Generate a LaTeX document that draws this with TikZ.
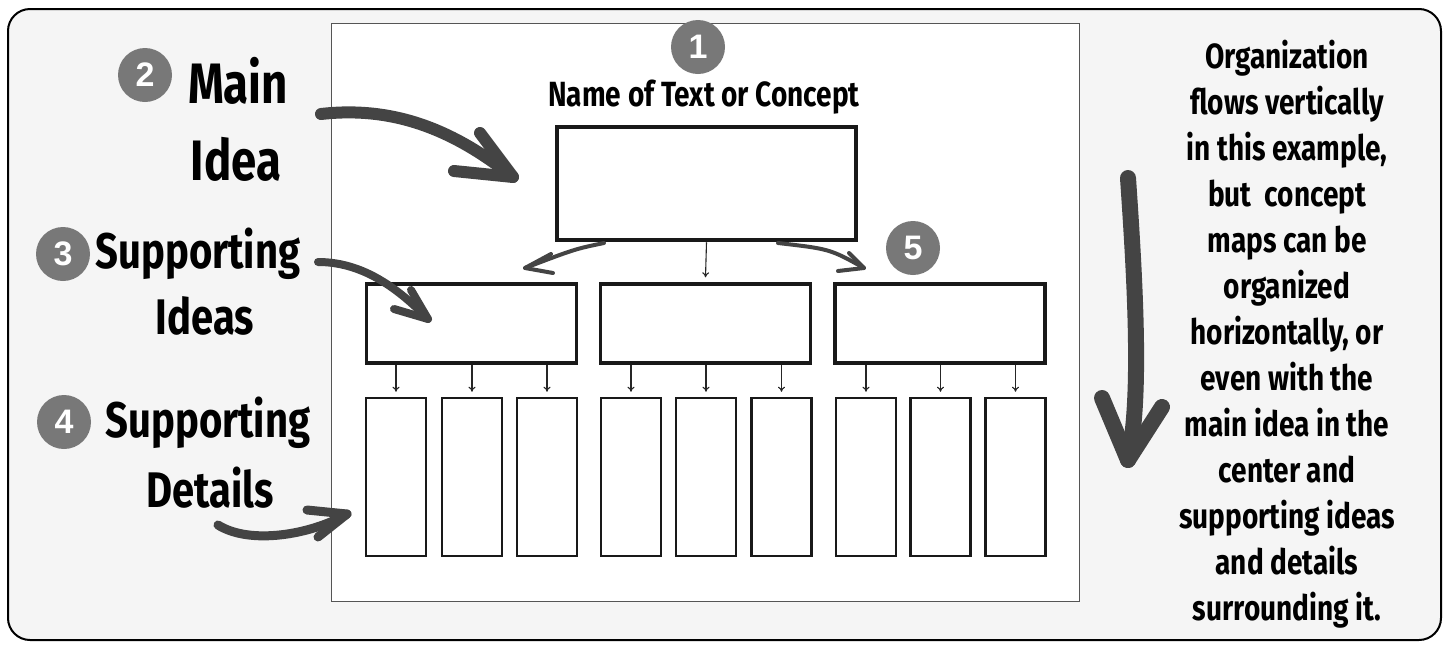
\documentclass[tikz,border=0pt]{standalone}
\usepackage{fontspec}
\usetikzlibrary{arrows.meta}
\newfontfamily\hand[FakeStretch=0.8]{Fira Sans}
\newfontfamily\numfont{Liberation Sans}
\definecolor{bggray}{HTML}{F5F5F5}
\definecolor{numgray}{HTML}{787878}
\definecolor{arrowgray}{HTML}{444444}
\definecolor{panelline}{HTML}{555555}
\tikzset{
  numc/.style={circle, fill=numgray, text=white, minimum size=54pt, inner sep=0pt,
    font=\numfont\bfseries\fontsize{34}{34}\selectfont},
  biglabel/.style={anchor=base, inner sep=0pt, font=\hand\bfseries\fontsize{50}{60}\selectfont},
  hugelabel/.style={anchor=base, inner sep=0pt, font=\hand\bfseries\fontsize{57}{64}\selectfont},
  mainbox/.style={draw=black!90, line width=4.5pt, minimum width=299pt, minimum height=113pt, inner sep=0pt},
  subbox/.style={draw=black!90, line width=3.5pt, minimum width=210pt, minimum height=79pt, inner sep=0pt},
  detbox/.style={draw=black!90, line width=2.5pt, minimum width=60pt, minimum height=158pt, inner sep=0pt},
  smallarr/.style={draw=black!85, line width=1.1pt, -{To[length=5pt,width=7pt]}},
  handarr/.style={draw=arrowgray, line cap=round, line join=round},
}
\begin{document}
\begin{tikzpicture}[x=1pt,y=-1pt]
\useasboundingbox (0,0) rectangle (1449,646);
\fill[white] (0,0) rectangle (1449,646);
\draw[line width=2pt, rounded corners=22pt, fill=bggray] (8,9) rectangle (1441,640);
\draw[line width=1pt, draw=panelline, fill=white] (331,23) rectangle (1079,601);

% title
\node[numc] (n1) at (698,47) {1};
\node[anchor=base, inner sep=0pt, font=\hand\bfseries\fontsize{35}{40}\selectfont] (title) at (704,106) {Name of Text or Concept};

% main box
\node[mainbox] (main) at (706.5,183.5) {};

% supporting idea boxes
\node[subbox] (s1) at (471.5,323.5) {};
\node[subbox] (s2) at (705.5,323.5) {};
\node[subbox] (s3) at (940,323.5) {};
\node[numc] (n5) at (913,248) {5};

% detail boxes
\foreach \i/\x in {1/396,2/472,3/547,4/631,5/706,6/781.5,7/866,8/940.5,9/1015.5}
  \node[detbox] (d\i) at (\x,477) {};

% small arrows
\foreach \i/\s in {1/s1,2/s1,3/s1,4/s2,5/s2,6/s2,7/s3,8/s3,9/s3}
  \draw[smallarr] (d\i.north |- \s.south) -- ([yshift=5pt]d\i.north);
\draw[smallarr] (main.south) -- ([yshift=5pt]s2.north);

% curved arrows from main box
\coordinate (la) at (604,243);
\coordinate (lt) at (525,268);
\draw[handarr, line width=4pt] (la) .. controls (575,249) .. (lt);
\draw[handarr, line width=4pt] (551,254) -- (lt) -- (553,273);
\coordinate (ra) at (778,243);
\coordinate (rt) at (864,268);
\draw[handarr, line width=4pt] (ra) .. controls (830,249) .. (rt);
\draw[handarr, line width=4pt] (849,253) -- (rt) -- (838,271);

% left labels
\node[numc] (n2) at (145,75) {2};
\node[hugelabel] (lmain) at (238,103) {Main};
\node[hugelabel] (lidea) at (236,180) {Idea};
\node[numc] (n3) at (63,254) {3};
\node[biglabel] (lsup1) at (198,268) {Supporting};
\node[biglabel] (lideas) at (205,334) {Ideas};
\node[numc] (n4) at (64,422) {4};
\node[biglabel] (lsup2) at (208,437) {Supporting};
\node[biglabel] (ldet) at (210,507) {Details};

% hand arrows from labels
\coordinate (m0) at (321,114);
\coordinate (mt) at (513,177);
\draw[handarr, line width=12pt] (m0) .. controls (400,105) and (460,135) .. (mt);
\draw[handarr, line width=12pt] (480,133) -- (mt) -- (454,171);

\coordinate (p0) at (318,262);
\coordinate (pt) at (428,319);
\draw[handarr, line width=8pt] (p0) .. controls (360,262) and (395,285) .. (pt);
\draw[handarr, line width=8pt] (411,290) -- (pt) -- (394,309);

\coordinate (q0) at (218,525);
\coordinate (qt) at (347,514);
\draw[handarr, line width=9pt] (q0) .. controls (250,545) and (310,535) .. (qt);
\draw[handarr, line width=9pt] (307,510) -- (qt) -- (318,537);

% big vertical arrow
\coordinate (v0) at (1128,178);
\coordinate (vt) at (1128,460);
\draw[handarr, line width=16pt] (v0) .. controls (1135,280) and (1142,400) .. (vt);
\draw[handarr, line width=16pt] (1102,398) -- (vt) -- (1162,407);

% right text
\node[anchor=north, inner sep=0pt, align=center,
      font=\hand\bfseries\fontsize{35}{46}\selectfont] (note) at (1287,40)
 {Organization\\flows vertically\\in this example,\\but\ \ concept\\maps can be\\organized\\horizontally, or\\even with the\\main idea in the\\center and\\supporting ideas\\and details\\surrounding it.};
\end{tikzpicture}
\end{document}
